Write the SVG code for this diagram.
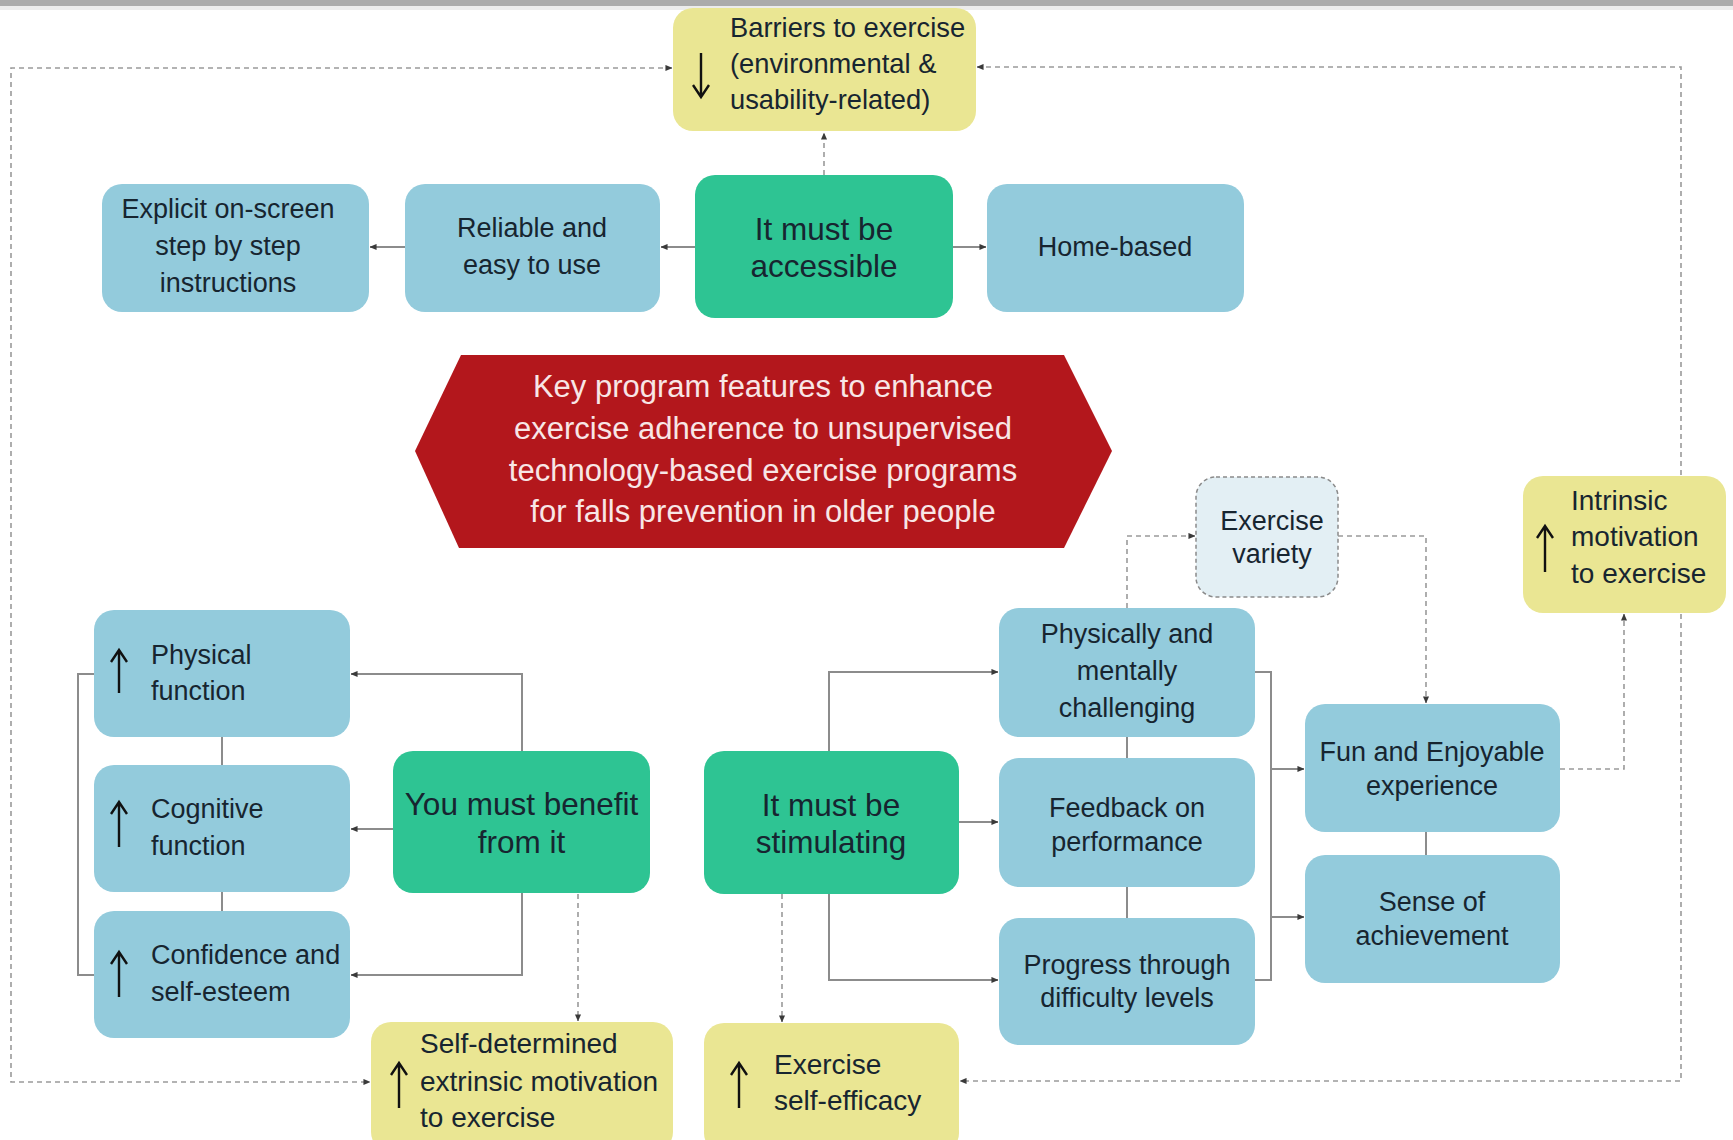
<svg xmlns="http://www.w3.org/2000/svg" width="1733" height="1140" viewBox="0 0 1733 1140">
<defs>
<marker id="arr" viewBox="0 0 8 8" refX="7.5" refY="4" markerWidth="7" markerHeight="7" markerUnits="userSpaceOnUse" orient="auto-start-reverse">
<path d="M0,0.5 L8,4 L0,7.5 z" fill="#3a3a3a"/>
</marker>
<style>
.solid{fill:none;stroke:#8c8c8c;stroke-width:2}
.dash{fill:none;stroke:#9a9a9a;stroke-width:1.6;stroke-dasharray:5 4}
.blue{fill:#93CBDC}
.green{fill:#2EC493}
.yellow{fill:#EAE693}
.variety{fill:#E3EFF4;stroke:#8a8a8a;stroke-width:1.5;stroke-dasharray:4 3}
text{font-family:"Liberation Sans",Arial,sans-serif;fill:#172530}
.t{font-size:27px;text-anchor:middle}
.tl{font-size:27px}
.ty{font-size:28px}
.tb{font-size:27.3px}
.g{font-size:31.5px;text-anchor:middle}
.h{font-size:31px;text-anchor:middle;fill:#F8E6E6}
.sym{fill:none;stroke:#111;stroke-width:2.4}
</style>
</defs>
<rect x="0" y="0" width="1733" height="1140" fill="#ffffff"/>
<rect x="0" y="0" width="1733" height="6" fill="#ababab"/>
<rect x="0" y="6" width="1733" height="4" fill="#ececec"/>

<g id="connectors">
<path class="solid" d="M695,247 H661" marker-end="url(#arr)"/>
<path class="solid" d="M405,247 H370" marker-end="url(#arr)"/>
<path class="solid" d="M953,247 H986" marker-end="url(#arr)"/>
<path class="dash" d="M824,175 V133" marker-end="url(#arr)"/>
<path class="dash" d="M672,68 H11 V1082 H370" marker-start="url(#arr)" marker-end="url(#arr)"/>
<path class="dash" d="M977,67 H1681 V1081 H960" marker-start="url(#arr)" marker-end="url(#arr)"/>

<path class="solid" d="M522,751 V674 H351" marker-end="url(#arr)"/>
<path class="solid" d="M393,829 H351" marker-end="url(#arr)"/>
<path class="solid" d="M522,893 V975 H351" marker-end="url(#arr)"/>
<path class="solid" d="M222,737 V765 M222,892 V911"/>
<path class="solid" d="M94,674 H78 V975 H94"/>
<path class="dash" d="M578,894 V1021" marker-end="url(#arr)"/>

<path class="solid" d="M829,751 V672 H998" marker-end="url(#arr)"/>
<path class="solid" d="M959,822 H998" marker-end="url(#arr)"/>
<path class="solid" d="M829,894 V980 H998" marker-end="url(#arr)"/>
<path class="solid" d="M1127,737 V758 M1127,887 V918"/>
<path class="solid" d="M1255,672 H1271 V980 H1255"/>
<path class="solid" d="M1271,769 H1304" marker-end="url(#arr)"/>
<path class="solid" d="M1271,917 H1304" marker-end="url(#arr)"/>
<path class="solid" d="M1426,832 V855"/>
<path class="dash" d="M1127,608 V536 H1195" marker-end="url(#arr)"/>
<path class="dash" d="M1338,536 H1426 V703" marker-end="url(#arr)"/>
<path class="dash" d="M1560,769 H1624 V614" marker-end="url(#arr)"/>
<path class="dash" d="M782,894 V1022" marker-end="url(#arr)"/>
</g>

<g id="barriers">
<rect class="yellow" x="673" y="8" width="303" height="123" rx="20"/>
<path class="sym" d="M701,53 V96 M693,85 L701,97 L709,85"/>
<text class="tb" x="730" y="37">Barriers to exercise</text>
<text class="tb" x="730" y="73">(environmental &amp;</text>
<text class="tb" x="730" y="109">usability-related)</text>
</g>

<g id="explicit">
<rect class="blue" x="102" y="184" width="267" height="128" rx="20"/>
<text class="t" x="228" y="218">Explicit on-screen</text>
<text class="t" x="228" y="255">step by step</text>
<text class="t" x="228" y="292">instructions</text>
</g>

<g id="reliable">
<rect class="blue" x="405" y="184" width="255" height="128" rx="20"/>
<text class="t" x="532" y="237">Reliable and</text>
<text class="t" x="532" y="274">easy to use</text>
</g>

<g id="accessible">
<rect class="green" x="695" y="175" width="258" height="143" rx="20"/>
<text class="g" x="824" y="240">It must be</text>
<text class="g" x="824" y="277">accessible</text>
</g>

<g id="home">
<rect class="blue" x="987" y="184" width="257" height="128" rx="20"/>
<text class="t" x="1115" y="256">Home-based</text>
</g>

<g id="key">
<polygon points="415,451 461,355 1064,355 1112,451 1064,548 459,548" fill="#B3171C"/>
<text class="h" x="763" y="397">Key program features to enhance</text>
<text class="h" x="763" y="439">exercise adherence to unsupervised</text>
<text class="h" x="763" y="481">technology-based exercise programs</text>
<text class="h" x="763" y="522">for falls prevention in older people</text>
</g>

<g id="physical">
<rect class="blue" x="94" y="610" width="256" height="127" rx="20"/>
<path class="sym" d="M119,693 V651 M111,662 L119,650 L127,662"/>
<text class="tl" x="151" y="664">Physical</text>
<text class="tl" x="151" y="700">function</text>
</g>

<g id="cognitive">
<rect class="blue" x="94" y="765" width="256" height="127" rx="20"/>
<path class="sym" d="M119,847 V803 M111,814 L119,802 L127,814"/>
<text class="tl" x="151" y="818">Cognitive</text>
<text class="tl" x="151" y="855">function</text>
</g>

<g id="confidence">
<rect class="blue" x="94" y="911" width="256" height="127" rx="20"/>
<path class="sym" d="M119,997 V953 M111,964 L119,952 L127,964"/>
<text class="tl" x="151" y="964">Confidence and</text>
<text class="tl" x="151" y="1001">self-esteem</text>
</g>

<g id="benefit">
<rect class="green" x="393" y="751" width="257" height="142" rx="20"/>
<text class="g" x="521.5" y="815">You must benefit</text>
<text class="g" x="521.5" y="853">from it</text>
</g>

<g id="selfdetermined">
<rect class="yellow" x="371" y="1022" width="302" height="130" rx="20"/>
<path class="sym" d="M399,1108 V1064 M391,1075 L399,1063 L407,1075"/>
<text class="ty" x="420" y="1053">Self-determined</text>
<text class="ty" x="420" y="1091">extrinsic motivation</text>
<text class="ty" x="420" y="1127">to exercise</text>
</g>

<g id="stimulating">
<rect class="green" x="704" y="751" width="255" height="143" rx="20"/>
<text class="g" x="831" y="816">It must be</text>
<text class="g" x="831" y="853">stimulating</text>
</g>

<g id="challenging">
<rect class="blue" x="999" y="608" width="256" height="129" rx="20"/>
<text class="t" x="1127" y="643">Physically and</text>
<text class="t" x="1127" y="680">mentally</text>
<text class="t" x="1127" y="717">challenging</text>
</g>

<g id="feedback">
<rect class="blue" x="999" y="758" width="256" height="129" rx="20"/>
<text class="t" x="1127" y="817">Feedback on</text>
<text class="t" x="1127" y="851">performance</text>
</g>

<g id="progress">
<rect class="blue" x="999" y="918" width="256" height="127" rx="20"/>
<text class="t" x="1127" y="974">Progress through</text>
<text class="t" x="1127" y="1007">difficulty levels</text>
</g>

<g id="variety">
<rect class="variety" x="1196" y="477" width="142" height="120" rx="20"/>
<text class="t" x="1272" y="530">Exercise</text>
<text class="t" x="1272" y="563">variety</text>
</g>

<g id="fun">
<rect class="blue" x="1305" y="704" width="255" height="128" rx="20"/>
<text class="t" x="1432" y="761">Fun and Enjoyable</text>
<text class="t" x="1432" y="795">experience</text>
</g>

<g id="sense">
<rect class="blue" x="1305" y="855" width="255" height="128" rx="20"/>
<text class="t" x="1432" y="911">Sense of</text>
<text class="t" x="1432" y="945">achievement</text>
</g>

<g id="intrinsic">
<rect class="yellow" x="1523" y="476" width="203" height="137" rx="20"/>
<path class="sym" d="M1545,572 V527 M1537,538 L1545,526 L1553,538"/>
<text class="ty" x="1571" y="510">Intrinsic</text>
<text class="ty" x="1571" y="546">motivation</text>
<text class="ty" x="1571" y="583">to exercise</text>
</g>

<g id="selfefficacy">
<rect class="yellow" x="704" y="1023" width="255" height="130" rx="20"/>
<path class="sym" d="M739,1108 V1064 M731,1075 L739,1063 L747,1075"/>
<text class="ty" x="774" y="1074">Exercise</text>
<text class="ty" x="774" y="1110">self-efficacy</text>
</g>
</svg>
